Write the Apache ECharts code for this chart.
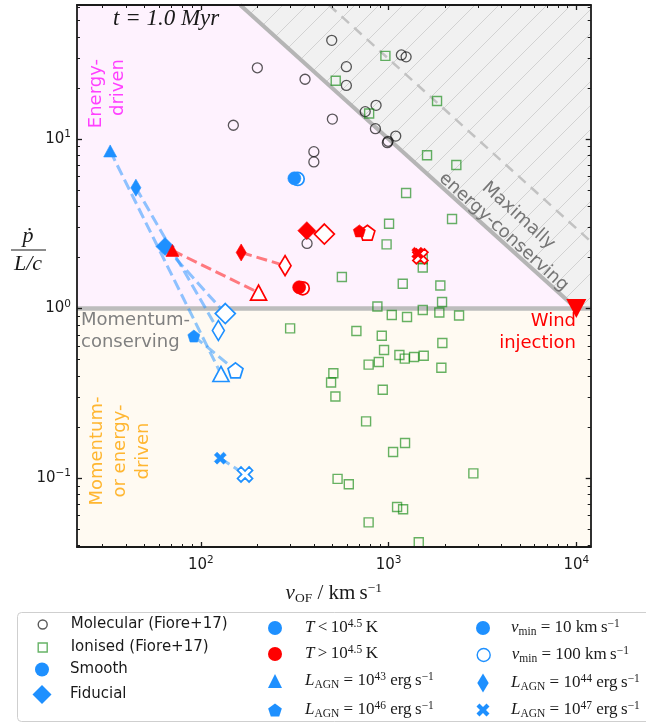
<!DOCTYPE html>
<html>
<head>
<meta charset="utf-8">
<title>Outflow momentum loading</title>
<script src="https://cdn.jsdelivr.net/npm/echarts@6.0.0/dist/echarts.min.js"></script>
<style>
  html, body { margin: 0; padding: 0; background: #ffffff; }
  #chart { width: 646px; height: 727px; }
</style>
</head>
<body>
<div id="chart"></div>
<script>
// Observed outflows (Fiore+17): [v_OF in km/s, pdot / (L/c)]
const molecular = [
  [200, 26.3], [359, 22.5], [498, 38.2], [596, 26.7], [596, 20.7], [502, 13.1],
  [149, 12.05], [400, 8.42], [400, 7.32], [751, 14.5], [1170, 31.3], [1240, 30.5],
  [858, 15.8], [851, 11.5], [994, 9.69], [985, 9.51], [1092, 10.4], [368, 2.42]
];
const ionised = [
  [523, 22.05], [962, 30.9], [1812, 16.76], [788, 14.14], [1603, 8.01], [2296, 7.02],
  [1240, 4.80], [2178, 3.37], [1006, 3.16], [976, 2.39], [1521, 1.951], [1521, 1.746],
  [564, 1.534], [1190, 1.401], [1887, 1.367], [872, 1.027], [1927, 1.092], [1040, 0.915],
  [1254, 0.891], [1521, 0.980], [1864, 0.947], [2374, 0.909], [674, 0.737], [299, 0.764],
  [920, 0.691], [1934, 0.626], [946, 0.569], [1142, 0.532], [1220, 0.506], [1367, 0.518],
  [1539, 0.527], [887, 0.484], [783, 0.467], [1911, 0.447], [508, 0.415], [494, 0.366],
  [521, 0.303], [931, 0.332], [759, 0.216], [1224, 0.161], [1057, 0.1424], [2829, 0.1066],
  [535, 0.0989], [614, 0.0919], [1110, 0.0675], [1195, 0.0654], [783, 0.0548], [1448, 0.0418]
];

// Simulated outflows: first point v_min = 10 km/s, second point v_min = 100 km/s
const coldSmooth   = [[315, 5.86], [328, 5.81]];
const coldFiducial = [[64.5, 2.32], [135, 0.934]];
const coldL43      = [[32.9, 8.5], [128, 0.411]];
const coldL44      = [[45.1, 5.16], [124, 0.742]];
const coldL46      = [[91.8, 0.688], [153, 0.432]];
const coldL47      = [[127, 0.131], [172, 0.105]];
const hotSmooth    = [[334, 1.334], [349, 1.316]];
const hotFiducial  = [[367, 2.88], [455, 2.75]];
const hotL43       = [[70.6, 2.2], [203, 1.24]];
const hotL44       = [[164, 2.14], [281, 1.79]];
const hotL46       = [[699, 2.87], [771, 2.80]];
const hotL47       = [[1430, 2.12], [1477, 2.03]];
const windInjection = [[1e4, 1]];

// Axis extents and decade tick exponents
const X_RANGE = [21.9, 11930];
const Y_RANGE = [0.0392, 61.7];
const X_DECADES = [2, 3, 4];
const Y_DECADES = [-1, 0, 1];

// Injection velocity (solid limit) and the dashed energy-conserving reference
const V_INJECTION = 1e4;
const V_DASHED = 2.97e4;

const SANS = "'DejaVu Sans', sans-serif";
const SERIF = "'Liberation Serif', 'DejaVu Serif', serif";
const BLUE = '#1e90ff', RED = '#ff0000', FRAME = '#1a1a1a', INK = '#1a1a1a';

const lg = ([v, p]) => [Math.log10(v), Math.log10(p)];
const LX = X_RANGE.map(Math.log10), LY = Y_RANGE.map(Math.log10);

function minorExps(lo, hi) {
  const out = [];
  for (let n = Math.floor(lo); n <= Math.ceil(hi); n++) {
    for (let k = 2; k <= 9; k++) {
      const e = n + Math.log10(k);
      if (e >= lo && e <= hi) out.push(e);
    }
  }
  return out;
}

// marker outlines in unit coordinates
const poly = pts => 'path://' + pts.map((p, i) => (i ? 'L' : 'M') + p[0].toFixed(4) + ',' + p[1].toFixed(4)).join('') + 'Z';
const SQUARE = poly([[-1, -1], [1, -1], [1, 1], [-1, 1]]);
const DIAMOND = poly([[0, -1], [1, 0], [0, 1], [-1, 0]]);
const THIN_DIAMOND = poly([[0, -1], [0.6, 0], [0, 1], [-0.6, 0]]);
const TRIANGLE_UP = poly([[0, -1], [1, 1], [-1, 1]]);
const TRIANGLE_DOWN = poly([[-1, -1], [1, -1], [0, 1]]);
const PENTAGON = poly([0, 1, 2, 3, 4].map(i => {
  const a = -Math.PI / 2 + i * 2 * Math.PI / 5;
  return [Math.cos(a), Math.sin(a)];
}));
const ARM = 0.3;
const CROSS = poly([[-ARM, -1], [ARM, -1], [ARM, -ARM], [1, -ARM], [1, ARM], [ARM, ARM], [ARM, 1], [-ARM, 1],
  [-ARM, ARM], [-1, ARM], [-1, -ARM], [-ARM, -ARM]].map(([x, y]) => [(x - y) / Math.SQRT2, (x + y) / Math.SQRT2]));
// width / height of each legend icon outline
const ICON_ASPECT = new Map([[THIN_DIAMOND, 0.6], [PENTAGON, 1.902 / 1.809]]);

// diagonal hatch used in the maximally energy-conserving region
function hatchCanvas() {
  const s = 24;
  const c = document.createElement('canvas');
  c.width = s; c.height = s;
  const g = c.getContext('2d');
  g.fillStyle = '#f1f1f1';
  g.fillRect(0, 0, s, s);
  g.strokeStyle = '#d2d2d2';
  g.lineWidth = 1;
  g.beginPath();
  g.moveTo(-2, s + 2); g.lineTo(s + 2, -2);
  g.moveTo(-2, 2); g.lineTo(2, -2);
  g.moveTo(s - 2, s + 2); g.lineTo(s + 2, s - 2);
  g.stroke();
  return c;
}
const HATCH = hatchCanvas();

const lvInj = Math.log10(V_INJECTION), lvDash = Math.log10(V_DASHED);
const creamRegion = [[LX[0], LY[0]], [LX[1], LY[0]], [LX[1], 0], [LX[0], 0]];
const pinkRegion = [[LX[0], 0], [LX[0], LY[1]], [lvInj - LY[1], LY[1]], [lvInj, 0]];
const hatchRegion = [[lvInj - LY[1], LY[1]], [LX[1], LY[1]], [LX[1], 0], [lvInj, 0]];

const supNum = v => String(Math.round(v)).replace('-', '\u2212');
const tickRich = {
  b: { fontFamily: SANS, fontSize: 15, lineHeight: 20, color: INK },
  s: { fontFamily: SANS, fontSize: 10.5, lineHeight: 12, verticalAlign: 'top', color: INK }
};
const powLabel = v => `{b|10}{s|${supNum(v)}}`;

const mathRich = {
  i: { fontFamily: SERIF, fontStyle: 'italic', fontSize: 17, lineHeight: 20, color: INK },
  r: { fontFamily: SERIF, fontSize: 17, lineHeight: 20, color: INK },
  sup: { fontFamily: SERIF, fontSize: 11.5, lineHeight: 11, verticalAlign: 'top', color: INK },
  sub: { fontFamily: SERIF, fontSize: 11.5, lineHeight: 11, verticalAlign: 'bottom', color: INK },
  t: { fontFamily: SANS, fontSize: 15, lineHeight: 20, color: INK }
};

function xAxisOf(position, major, withLabel) {
  const ticks = major ? X_DECADES : minorExps(LX[0], LX[1]);
  const ax = {
    type: 'value', min: LX[0], max: LX[1], position, z: 10,
    axisLine: { show: major, onZero: false, lineStyle: { color: FRAME, width: 1.8 } },
    axisTick: { show: true, inside: true, length: major ? 5 : 3, customValues: ticks,
      lineStyle: { color: FRAME, width: major ? 1.3 : 1 } },
    axisLabel: { show: withLabel, customValues: X_DECADES, margin: 8, formatter: powLabel, rich: tickRich },
    splitLine: { show: false }
  };
  if (withLabel) {
    ax.name = '{i|v}{sub|OF}{r| / km\u2009s}{sup|\u22121}';
    ax.nameLocation = 'middle';
    ax.nameGap = 34;
    ax.nameTextStyle = { rich: {
      i: { fontFamily: SERIF, fontStyle: 'italic', fontSize: 21, lineHeight: 24, color: INK },
      r: { fontFamily: SERIF, fontSize: 21, lineHeight: 24, color: INK },
      sup: { fontFamily: SERIF, fontSize: 13.5, lineHeight: 13, verticalAlign: 'top', color: INK },
      sub: { fontFamily: SERIF, fontSize: 13.5, lineHeight: 13, verticalAlign: 'bottom', color: INK }
    } };
  }
  return ax;
}
function yAxisOf(position, major, withLabel) {
  const ticks = major ? Y_DECADES : minorExps(LY[0], LY[1]);
  return {
    type: 'value', min: LY[0], max: LY[1], position, z: 10,
    axisLine: { show: major, onZero: false, lineStyle: { color: FRAME, width: 1.8 } },
    axisTick: { show: true, inside: true, length: major ? 5 : 3, customValues: ticks,
      lineStyle: { color: FRAME, width: major ? 1.3 : 1 } },
    axisLabel: { show: withLabel, customValues: Y_DECADES, margin: 6, formatter: powLabel, rich: tickRich },
    splitLine: { show: false }
  };
}

// background regions, drawn through the grid's coordinate mapping
const regionSeries = {
  type: 'custom', z: -5, silent: true, clip: false,
  data: [[LX[0], LY[0]]],
  renderItem(params, api) {
    const P = pts => pts.map(p => api.coord(p));
    return { type: 'group', children: [
      { type: 'polygon', shape: { points: P(creamRegion) }, style: { fill: '#fffaf2' } },
      { type: 'polygon', shape: { points: P(pinkRegion) }, style: { fill: '#fef2fe' } },
      { type: 'polygon', shape: { points: P(hatchRegion) }, style: { fill: { image: HATCH, repeat: 'repeat' } } }
    ] };
  }
};

const refLine = (data, color, width, type) => ({
  type: 'line', data, symbol: 'none', silent: true, z: 1,
  lineStyle: { color, width, type }
});

const runMarkers = [
  { cold: coldSmooth,   hot: hotSmooth,   symbol: 'circle',   size: [13, 13], hollow: [13, 13] },
  { cold: coldFiducial, hot: hotFiducial, symbol: 'diamond',  size: [18, 18], hollow: [20, 20] },
  { cold: coldL43,      hot: hotL43,      symbol: 'triangle', size: [13, 12], hollow: [16, 15] },
  { cold: coldL44,      hot: hotL44,      symbol: 'diamond',  size: [10, 17], hollow: [12, 20] },
  { cold: coldL46,      hot: hotL46,      symbol: PENTAGON,   size: [12, 12], hollow: [15, 15] },
  { cold: coldL47,      hot: hotL47,      symbol: CROSS,      size: [12, 12], hollow: [15, 15] }
];

const runSeries = [];
[['cold', BLUE, 'rgba(30,144,255,0.5)', 3], ['hot', RED, 'rgba(255,0,0,0.5)', 6]].forEach(([key, color, dash, z0]) => {
  runMarkers.forEach(m => {
    runSeries.push({ type: 'line', data: m[key].map(lg), symbol: 'none', silent: true, z: z0,
      lineStyle: { color: dash, width: 3, type: [11, 5] } });
  });
  runMarkers.forEach(m => {
    runSeries.push({ type: 'scatter', data: [lg(m[key][1])], symbol: m.symbol, symbolSize: m.hollow, z: z0 + 1,
      itemStyle: { color: '#ffffff', borderColor: color, borderWidth: 1.7, opacity: 1 } });
  });
  runMarkers.forEach(m => {
    runSeries.push({ type: 'scatter', data: [lg(m[key][0])], symbol: m.symbol, symbolSize: m.size, z: z0 + 2,
      itemStyle: { color, borderColor: color, borderWidth: 0.6, opacity: 1 } });
  });
});

// legend rows: [series name, icon, icon height, fill, stroke, label]
const legendColumns = [
  { iconX: 42, textX: 70, rows: [627, 650, 672, 695], items: [
    ['Molecular (Fiore+17)', 'circle', 9, 'rgba(255,255,255,0)', 'rgba(0,0,0,0.65)', '{t|Molecular (Fiore+17)}'],
    ['Ionised (Fiore+17)', SQUARE, 9, 'rgba(255,255,255,0)', 'rgba(0,128,0,0.6)', '{t|Ionised (Fiore+17)}'],
    ['Smooth', 'circle', 14, BLUE, BLUE, '{t|Smooth}'],
    ['Fiducial', DIAMOND, 19, BLUE, BLUE, '{t|Fiducial}']
  ] },
  { iconX: 275, textX: 305, rows: [628, 654, 681, 710], items: [
    ['T cold', 'circle', 14, BLUE, BLUE, '{i|T}{r|\u2009<\u200910}{sup|4.5}{r|\u2009K}'],
    ['T hot', 'circle', 14, RED, RED, '{i|T}{r|\u2009>\u200910}{sup|4.5}{r|\u2009K}'],
    ['L43', TRIANGLE_UP, 14, BLUE, BLUE, '{i|L}{sub|AGN}{r| = 10}{sup|43}{r| erg\u2009s}{sup|\u22121}'],
    ['L46', PENTAGON, 13, BLUE, BLUE, '{i|L}{sub|AGN}{r| = 10}{sup|46}{r| erg\u2009s}{sup|\u22121}']
  ] },
  { iconX: 483, textX: 511, rows: [628, 655, 683, 710], items: [
    ['vmin 10', 'circle', 14, BLUE, BLUE, '{i|v}{sub|min}{r| = 10 km\u2009s}{sup|\u22121}'],
    ['vmin 100', 'circle', 13, '#ffffff', BLUE, '{i|v}{sub|min}{r| = 100 km\u2009s}{sup|\u22121}'],
    ['L44', THIN_DIAMOND, 19, BLUE, BLUE, '{i|L}{sub|AGN}{r| = 10}{sup|44}{r| erg\u2009s}{sup|\u22121}'],
    ['L47', CROSS, 13, BLUE, BLUE, '{i|L}{sub|AGN}{r| = 10}{sup|47}{r| erg\u2009s}{sup|\u22121}']
  ] }
];

const legends = [];
const legendOnlySeries = [];
legendColumns.forEach(col => {
  const W = 2 * (col.textX - 5 - col.iconX);
  col.items.forEach(([name, icon, size, fill, stroke, label], r) => {
    const visible = size * (ICON_ASPECT.get(icon) || 1);
    const filled = fill === BLUE || fill === RED;
    legends.push({
      left: col.iconX - visible / 2, top: col.rows[r] - 10, padding: 0, itemGap: 0,
      itemWidth: W, itemHeight: size, selectedMode: false, z: 6,
      data: [{ name, icon, itemStyle: { color: fill, borderColor: stroke,
        borderWidth: filled ? 0 : 1.4, opacity: 1 } }],
      formatter: () => label,
      textStyle: { rich: mathRich }
    });
    if (name !== 'Molecular (Fiore+17)' && name !== 'Ionised (Fiore+17)') {
      legendOnlySeries.push({ type: 'scatter', name, data: [], symbol: 'circle',
        itemStyle: { color: fill, opacity: 1 } });
    }
  });
});

const chart = echarts.init(document.getElementById('chart'), null, { renderer: 'canvas' });
chart.setOption({
  animation: false,
  backgroundColor: '#ffffff',
  textStyle: { fontFamily: SANS },
  grid: { left: 77, right: 55.3, top: 5, bottom: 180, containLabel: false, outerBoundsMode: 'none' },
  xAxis: [xAxisOf('bottom', true, true), xAxisOf('bottom', false, false), xAxisOf('top', true, false), xAxisOf('top', false, false)],
  yAxis: [yAxisOf('left', true, true), yAxisOf('left', false, false), yAxisOf('right', true, false), yAxisOf('right', false, false)],
  legend: legends,
  graphic: [
    { type: 'rect', z: 1, shape: { x: 17.5, y: 612.5, width: 640, height: 109, r: 4 },
      style: { fill: 'rgba(255,255,255,0.85)', stroke: '#cfcfcf', lineWidth: 1 } },
    { type: 'text', z: 3, x: 113, y: 19, style: {
      text: '{i|t}{r| = 1.0 }{i|Myr}', verticalAlign: 'middle',
      rich: {
        i: { fontFamily: SERIF, fontStyle: 'italic', fontSize: 23, lineHeight: 26, fill: INK },
        r: { fontFamily: SERIF, fontStyle: 'italic', fontSize: 23, lineHeight: 26, fill: INK }
      } } },
    { type: 'text', z: 3, x: 107, y: 59, rotation: Math.PI / 2, style: {
      text: 'Energy-\ndriven', fill: '#ff40ff', font: `18px ${SANS}`,
      align: 'right', verticalAlign: 'middle', lineHeight: 22 } },
    { type: 'text', z: 3, x: 81, y: 309, style: {
      text: 'Momentum-\nconserving', fill: '#808080', font: `18px ${SANS}`,
      align: 'left', verticalAlign: 'top', lineHeight: 22 } },
    { type: 'text', z: 3, x: 120, y: 451, rotation: Math.PI / 2, style: {
      text: 'Momentum-\nor energy-\ndriven', fill: 'rgba(255,165,0,0.8)', font: `18px ${SANS}`,
      align: 'center', verticalAlign: 'middle', lineHeight: 23 } },
    { type: 'text', z: 3, x: 511, y: 224, rotation: -42 * Math.PI / 180, style: {
      text: 'Maximally\nenergy-conserving', fill: '#757575', font: `18px ${SANS}`,
      align: 'center', verticalAlign: 'middle', lineHeight: 22 } },
    { type: 'text', z: 3, x: 576, y: 310, style: {
      text: 'Wind\ninjection', fill: RED, font: `18px ${SANS}`,
      align: 'right', verticalAlign: 'top', lineHeight: 22 } },
    { type: 'group', z: 3, children: [
      { type: 'text', x: 28, y: 236, style: { text: '\u1E57', fill: INK, font: `italic 22px ${SERIF}`,
        align: 'center', verticalAlign: 'middle' } },
      { type: 'line', shape: { x1: 11, y1: 250, x2: 46, y2: 250 }, style: { stroke: INK, lineWidth: 1.2 } },
      { type: 'text', x: 28, y: 264, style: { text: 'L/c', fill: INK, font: `italic 22px ${SERIF}`,
        align: 'center', verticalAlign: 'middle' } }
    ] }
  ],
  series: [
    regionSeries,
    refLine([[LX[0], 0], [LX[1], 0]], '#bdbdbd', 4.5, 'solid'),
    refLine([[lvInj - LY[1], LY[1]], [lvInj, 0]], '#b5b5b5', 4, 'solid'),
    refLine([[lvDash - LY[1], LY[1]], [LX[1], lvDash - LX[1]]], '#c2c2c2', 2.5, [10, 7]),
    { type: 'scatter', name: 'Molecular (Fiore+17)', data: molecular.map(lg), symbol: 'circle', symbolSize: 10, z: 2,
      itemStyle: { color: 'rgba(0,0,0,0)', borderColor: 'rgba(0,0,0,0.65)', borderWidth: 1.3, opacity: 1 } },
    { type: 'scatter', name: 'Ionised (Fiore+17)', data: ionised.map(lg), symbol: 'rect', symbolSize: 9, z: 2,
      itemStyle: { color: 'rgba(0,0,0,0)', borderColor: 'rgba(0,128,0,0.6)', borderWidth: 1.4, opacity: 1 } },
    ...runSeries,
    { type: 'scatter', data: windInjection.map(lg), symbol: TRIANGLE_DOWN, symbolSize: [20, 19], z: 12,
      itemStyle: { color: RED, opacity: 1 } },
    ...legendOnlySeries
  ]
});
</script>
</body>
</html>
